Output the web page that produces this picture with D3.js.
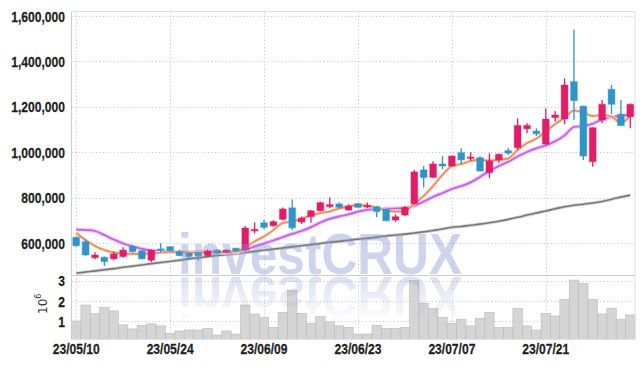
<!DOCTYPE html>
<html>
<head>
<meta charset="utf-8">
<script src="https://cdn.jsdelivr.net/npm/d3@7/dist/d3.min.js"></script>
<style>
body { margin: 0; background: #fff; }
</style>
</head>
<body>
<div id="chart"></div>
<script>
// trading days (KRX), 23/05/10 .. 23/08/03
var dates = ["23/05/10","23/05/11","23/05/12","23/05/15","23/05/16","23/05/17","23/05/18","23/05/19","23/05/22","23/05/23",
             "23/05/24","23/05/25","23/05/26","23/05/30","23/05/31","23/06/01","23/06/02","23/06/05","23/06/07","23/06/08",
             "23/06/09","23/06/12","23/06/13","23/06/14","23/06/15","23/06/16","23/06/19","23/06/20","23/06/21","23/06/22",
             "23/06/23","23/06/26","23/06/27","23/06/28","23/06/29","23/06/30","23/07/03","23/07/04","23/07/05","23/07/06",
             "23/07/07","23/07/10","23/07/11","23/07/12","23/07/13","23/07/14","23/07/17","23/07/18","23/07/19","23/07/20",
             "23/07/21","23/07/24","23/07/25","23/07/26","23/07/27","23/07/28","23/07/31","23/08/01","23/08/02","23/08/03"];

// prices in thousands
var opens  = [625,606,535,537,530,540,584,566,524,574, 584,562,555,557,544,569,559,577,569,653,
              689,676,704,755,692,716,742,760,772,745, 773,759,760,750,701,723,773,922,889,948,
              939,998,974,976,910,966,1007,1020,1103,1093, 1036,1152,1146,1311,1203,958,1142,1277,1167,1156];
var highs  = [628,616,559,541,562,581,591,568,571,599, 586,572,557,560,572,572,572,579,675,691,
              701,701,756,792,716,745,782,800,779,770, 776,778,763,752,726,763,922,939,960,983,
              985,1017,1000,982,995,993,1018,1149,1127,1105, 1193,1181,1325,1541,1205,1110,1230,1296,1230,1215];
var lows   = [585,544,528,499,524,535,557,528,516,560, 564,542,531,522,541,553,556,563,567,643,
              662,672,700,657,684,689,740,753,753,743, 755,753,713,696,694,718,770,845,885,925,
              937,948,962,915,885,954,988,1010,1083,1071, 1033,1134,1123,1142,966,936,1127,1168,1115,1105];
var closes = [588,547,547,518,552,569,562,530,569,571, 566,544,540,543,565,555,569,566,666,660,
              669,694,750,667,709,742,778,769,757,763, 757,765,738,698,716,757,913,888,948,939,
              983,966,979,917,961,991,996,1118,1118,1081, 1146,1164,1296,1227,983,1108,1211,1211,1117,1211];

// volume in millions
var volumes = [1.01,1.80,1.39,1.69,1.51,0.82,0.62,0.80,0.87,0.77, 0.41,0.52,0.57,0.57,0.65,0.32,0.52,0.37,1.80,1.36,
               1.20,0.70,1.44,2.51,1.39,0.90,1.23,0.97,0.77,0.70, 0.37,0.37,0.80,0.65,0.65,0.70,3.00,1.89,1.64,1.20,
               0.90,1.10,0.77,1.15,1.44,0.70,0.70,1.64,0.77,0.57, 1.39,1.26,2.08,3.03,2.87,2.08,1.36,1.64,1.10,1.31];

// moving averages (thousands)
var maShort = [644,613,587,569,558,554,552,552,554,558, 560,560,558,558,558,558,560,562,580,607,
               629,657,688,694,708,721,732,739,752,762, 767,765,754,745,738,742,772,807,851,900,
               939,948,961,966,963,966,972,1010,1040,1060, 1091,1124,1151,1184,1175,1159,1164,1157,1129,1162];
var maMid   = [659,657,653,635,615,598,585,574,567,563, 562,560,560,560,560,559,557,559,569,585,
               598,611,626,640,653,670,690,706,717,726, 738,746,750,751,752,754,763,783,803,820,
               838,851,867,891,917,939,958,981,1001,1017, 1030,1048,1074,1111,1115,1126,1144,1155,1159,1166];
var maLong  = [467,472,477,482,487,493,498,503,509,514, 519,524,530,535,540,545,549,553,558,563,
               568,573,578,583,588,593,598,603,607,612, 617,621,626,631,635,639,644,649,655,662,
               669,673,678,683,689,696,704,713,723,732, 741,751,760,766,771,776,783,793,802,811];

var priceTicks = [600000, 800000, 1000000, 1200000, 1400000, 1600000];
var volTicks = [1, 2, 3];
var dateTicks = ["23/05/10","23/05/24","23/06/09","23/06/23","23/07/07","23/07/21"];

var W = 644, H = 368;
var plotLeft = 71.5, plotRight = 635, plotTop = 12, plotMid = 275, plotBottom = 339.5;
var upColor = "#e01d68", downColor = "#2f94c8";
var gridColor = "#c8c8dc", frameColor = "#cdcdcd";
var labelFont = "'Liberation Sans',Arial,sans-serif";
var squeeze = 0.78; // the reference uses a narrow face

var svg = d3.select("#chart").append("svg")
    .attr("width", W).attr("height", H);

var x = d3.scaleBand().domain(dates).range([plotLeft, plotRight]).padding(0);
var y = d3.scaleLinear().domain([459000, 1617600]).range([plotMid, plotTop]);
var yV = d3.scaleLinear().domain([0.1, 3.28]).range([plotBottom, plotMid]);
var cx = function(i) { return x(dates[i]) + x.bandwidth() / 2; };

// grid
var grid = svg.append("g").attr("stroke", gridColor).attr("stroke-width", 1)
    .attr("stroke-dasharray", "1.2,2.3");
grid.selectAll(".hg").data(priceTicks).enter().append("line")
    .attr("x1", plotLeft).attr("x2", plotRight)
    .attr("y1", function(d) { return Math.round(y(d)) + 0.5; })
    .attr("y2", function(d) { return Math.round(y(d)) + 0.5; });
grid.selectAll(".vg").data(volTicks).enter().append("line")
    .attr("x1", plotLeft).attr("x2", plotRight)
    .attr("y1", function(d) { return Math.round(yV(d)) + 0.5; })
    .attr("y2", function(d) { return Math.round(yV(d)) + 0.5; });
grid.selectAll(".xg").data(dateTicks).enter().append("line")
    .attr("y1", plotTop).attr("y2", plotBottom)
    .attr("x1", function(d) { return Math.round(x(d) + x.bandwidth() / 2) + 0.5; })
    .attr("x2", function(d) { return Math.round(x(d) + x.bandwidth() / 2) + 0.5; });

// volume bars
svg.append("g").selectAll("rect").data(volumes).enter().append("rect")
    .attr("x", function(d, i) { return x(dates[i]); })
    .attr("width", x.bandwidth())
    .attr("y", function(d) { return yV(d); })
    .attr("height", function(d) { return plotBottom - yV(d); })
    .attr("fill", "#d5d5d5")
    .attr("stroke", "#bababa")
    .attr("stroke-width", 0.6);

// frame
var frame = svg.append("g").attr("stroke", frameColor).attr("stroke-width", 1).attr("fill", "none");
frame.append("line").attr("x1", plotLeft).attr("x2", plotLeft).attr("y1", plotTop).attr("y2", plotBottom);
frame.append("line").attr("x1", plotRight).attr("x2", plotRight).attr("y1", plotTop).attr("y2", plotBottom).attr("stroke", "#dedede");
frame.append("line").attr("x1", plotLeft).attr("x2", plotRight).attr("y1", plotTop - 0.5).attr("y2", plotTop - 0.5).attr("stroke", "#dedede");
frame.append("line").attr("x1", plotLeft).attr("x2", plotRight).attr("y1", plotMid + 0.5).attr("y2", plotMid + 0.5);
frame.append("line").attr("x1", plotLeft).attr("x2", plotRight).attr("y1", plotBottom).attr("y2", plotBottom).attr("stroke", "#e2e2e2");

// moving average lines
var line = function(arr) {
    return d3.line()
        .x(function(d, i) { return cx(i); })
        .y(function(d) { return y(d * 1000); })
        .curve(d3.curveMonotoneX)(arr);
};
var maG = svg.append("g").attr("fill", "none").attr("stroke-linejoin", "round");
maG.append("path").attr("d", line(maLong)).attr("stroke", "#d9d9d9").attr("stroke-width", 3.5);
maG.append("path").attr("d", line(maLong)).attr("stroke", "#777").attr("stroke-width", 1.6);
maG.append("path").attr("d", line(maMid)).attr("stroke", "#efc6f8").attr("stroke-width", 4);
maG.append("path").attr("d", line(maMid)).attr("stroke", "#c65cf0").attr("stroke-width", 1.7);
maG.append("path").attr("d", line(maShort)).attr("stroke", "#fadccb").attr("stroke-width", 3.5);
maG.append("path").attr("d", line(maShort)).attr("stroke", "#f08750").attr("stroke-width", 1.6);

// candles
var bodyW = 6.8;
var candles = svg.append("g").selectAll("g").data(dates).enter().append("g");
candles.append("line")
    .attr("x1", function(d, i) { return cx(i); })
    .attr("x2", function(d, i) { return cx(i); })
    .attr("y1", function(d, i) { return y(highs[i] * 1000); })
    .attr("y2", function(d, i) { return y(lows[i] * 1000); })
    .attr("stroke", function(d, i) { return closes[i] >= opens[i] ? upColor : downColor; })
    .attr("stroke-width", 1.3);
candles.append("rect")
    .attr("x", function(d, i) { return cx(i) - bodyW / 2; })
    .attr("width", bodyW)
    .attr("y", function(d, i) { return y(Math.max(opens[i], closes[i]) * 1000); })
    .attr("height", function(d, i) {
        return Math.max(1.5, Math.abs(y(opens[i] * 1000) - y(closes[i] * 1000)));
    })
    .attr("fill", function(d, i) { return closes[i] >= opens[i] ? upColor : downColor; })
    .attr("stroke", function(d, i) { return closes[i] >= opens[i] ? upColor : downColor; })
    .attr("stroke-opacity", 0.3)
    .attr("stroke-width", 1.4);

// watermark + reflection, drawn over the marks
var defs = svg.append("defs");
var grad = defs.append("linearGradient").attr("id", "fade")
    .attr("gradientUnits", "userSpaceOnUse")
    .attr("x1", 0).attr("y1", plotMid).attr("x2", 0).attr("y2", plotMid + 48);
grad.append("stop").attr("offset", 0).attr("stop-color", "#fff").attr("stop-opacity", 0.75);
grad.append("stop").attr("offset", 1).attr("stop-color", "#fff").attr("stop-opacity", 0);
defs.append("mask").attr("id", "fadeMask").attr("maskUnits", "userSpaceOnUse")
    .attr("x", 0).attr("y", 0).attr("width", W).attr("height", H)
  .append("rect").attr("x", 0).attr("y", plotMid).attr("width", W).attr("height", 60)
    .attr("fill", "url(#fade)");

function watermark(g) {
    g.append("text")
        .attr("x", 178).attr("y", 0)
        .attr("font-family", "'Liberation Sans','Arial',sans-serif")
        .attr("font-weight", "bold")
        .attr("font-size", 58)
        .attr("textLength", 284)
        .attr("lengthAdjust", "spacingAndGlyphs")
        .attr("fill", "#8494cc")
        .attr("fill-opacity", 0.4)
        .text("investCRUX");
}
watermark(svg.append("g").attr("transform", "translate(0," + (plotMid - 1) + ")"));
watermark(svg.append("g").attr("mask", "url(#fadeMask)")
    .append("g").attr("transform", "translate(0," + (plotMid + 1.5) + ") scale(1,-1)"));

// axis labels (narrowed horizontally)
var fmt = d3.format(",");
function label(g, tx, ty, anchor, txt) {
    g.append("text")
        .attr("transform", "translate(" + tx + "," + ty + ") scale(" + squeeze + ",1)")
        .attr("text-anchor", anchor)
        .attr("font-family", labelFont).attr("font-weight", "bold").attr("font-size", 15.5)
        .attr("fill", "#1e1e1e")
        .attr("stroke", "#1e1e1e").attr("stroke-width", 0.25)
        .text(txt);
}
var yLab = svg.append("g");
priceTicks.forEach(function(d) { label(yLab, 65, y(d) + 5.6, "end", fmt(d)); });
volTicks.forEach(function(d) { label(yLab, 65, yV(d) + 5.6, "end", String(d)); });

var unit = svg.append("text")
    .attr("transform", "translate(47,314) rotate(-90)")
    .attr("font-family", "'DejaVu Sans',sans-serif").attr("font-size", 12)
    .attr("fill", "#333");
unit.append("tspan").text("10");
unit.append("tspan").attr("dy", -6).attr("font-size", 8).text("6");

var xLab = svg.append("g");
dateTicks.forEach(function(d) { label(xLab, x(d) + x.bandwidth() / 2, 354, "middle", d); });
</script>
</body>
</html>
